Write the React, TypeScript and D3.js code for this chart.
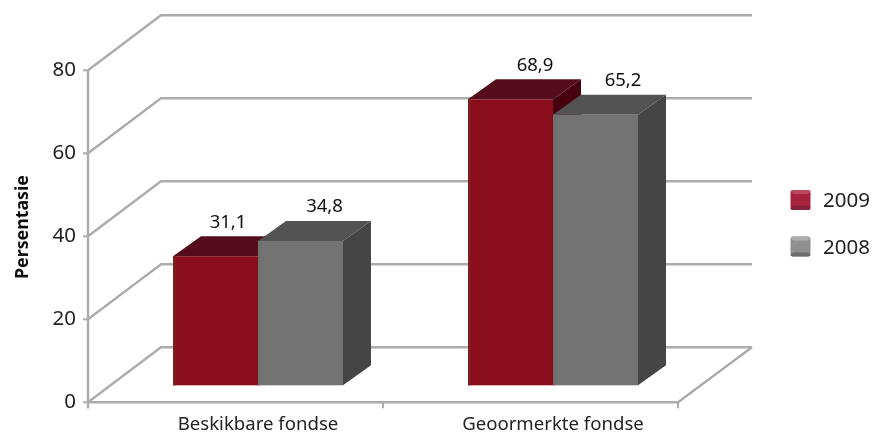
import React from "react";
import * as d3 from "d3";

const categories = ["Beskikbare fondse", "Geoormerkte fondse"];
const seriesNames = ["2009", "2008"];
const values2009 = [31.1, 68.9];
const values2008 = [34.8, 65.2];
const yTicks = [0, 20, 40, 60, 80];

const WIDTH = 880;
const HEIGHT = 434;
const FONT = "'Noto Sans', 'Open Sans', sans-serif";
const GRID = "#acacac";
const floorDx = 73;
const floorDy = -55;
const barDx = 28;
const barDy = -20;
const barLift = 17;
const groupShift = 22.5;
const labelNudgeX = [
  [12.5, 24],
  [24.5, 27.5],
];

const palettes = [
  { front: "#8a101c", frontEdge: "#7f1a1e", top: "#540a1c", side: "#47060f" },
  { front: "#737373", frontEdge: "#6f6f6f", top: "#525252", side: "#444444" },
];
const legendPalettes = [
  { face: "#a7203c", top: "#bb4a62", side: "#8a1a30", bottom: "#84203a" },
  { face: "#8f8f8f", top: "#adadad", side: "#747474", bottom: "#6c6c6c" },
];

const x = d3.scaleBand<string>().domain(categories).range([88, 678]);
const y = d3.scaleLinear().domain([0, 80]).range([402.3, 70.3]);
const pts = (p: number[][]) => p.map((q) => q.join(",")).join(" ");

export default function App() {
  const series = [values2009, values2008];
  const barW = 85;
  return (
    <svg
      width={WIDTH}
      height={HEIGHT}
      viewBox={`0 0 ${WIDTH} ${HEIGHT}`}
      style={{ position: "absolute", left: 0, top: 0, background: "#fff", fontFamily: FONT }}
    >
      <defs>
        <filter id="soft" x="0" y="0" width="100%" height="100%" filterUnits="userSpaceOnUse">
          <feGaussianBlur stdDeviation="0.45" />
        </filter>
      </defs>
      <g filter="url(#soft)">
        {/* gridlines on wall */}
        {yTicks.map((t) => (
          <polyline
            key={t}
            points={pts([
              [88, y(t)],
              [88 + floorDx, y(t) + floorDy],
              [752, y(t) + floorDy],
            ])}
            fill="none"
            stroke={GRID}
            strokeWidth={2.4}
          />
        ))}
        {/* floor */}
        <polyline
          points={pts([
            [88, y(0)],
            [678, y(0)],
            [678 + floorDx + 1, y(0) + floorDy],
          ])}
          fill="none"
          stroke={GRID}
          strokeWidth={2.4}
        />
        {/* y axis */}
        <line x1={88} x2={88} y1={y(80)} y2={y(0) + 6} stroke={GRID} strokeWidth={2.4} />
        {yTicks.map((t) => (
          <g key={t}>
            <line x1={83} x2={88} y1={y(t)} y2={y(t)} stroke={GRID} strokeWidth={2} />
            <text x={76} y={y(t) + 6} textAnchor="end" fontSize={20.5} fill="#222">
              {t}
            </text>
          </g>
        ))}
        {/* x ticks */}
        {[88, 383, 678].map((px) => (
          <line key={px} x1={px} x2={px} y1={y(0)} y2={y(0) + 6} stroke={GRID} strokeWidth={2} />
        ))}
        {categories.map((c) => (
          <text
            key={c}
            x={(x(c) as number) + x.bandwidth() / 2 + 22.5}
            y={430}
            textAnchor="middle"
            fontSize={18.6}
            fill="#222"
          >
            {c}
          </text>
        ))}
        {/* y axis title */}
        <text
          transform="translate(28,227) rotate(-90)"
          textAnchor="middle"
          fontSize={17.8}
          fontWeight={700}
          fill="#111"
        >
          Persentasie
        </text>
        {/* bars */}
        {categories.map((c, ci) => {
          const bx = (x(c) as number) + x.bandwidth() / 2 - barW + groupShift;
          const base = y(0) - barLift;
          return (
            <g key={c}>
              {series.map((vals, si) => {
                const p = palettes[si];
                const l = bx + si * barW;
                const r = l + barW;
                const t = y(vals[ci]) - barLift;
                return (
                  <g key={si}>
                    <polygon
                      points={pts([
                        [r, base],
                        [r + barDx, base + barDy],
                        [r + barDx, t + barDy],
                        [r, t],
                      ])}
                      fill={p.side}
                    />
                    <polygon
                      points={pts([
                        [l, t],
                        [l + barDx, t + barDy],
                        [r + barDx, t + barDy],
                        [r, t],
                      ])}
                      fill={p.top}
                    />
                    <rect x={l} y={t} width={barW} height={base - t} fill={p.front} />
                    <rect x={l} y={t} width={3} height={base - t} fill={p.frontEdge} />
                  </g>
                );
              })}
              {series.map((vals, si) => (
                <text
                  key={si}
                  x={bx + si * barW + barW / 2 + labelNudgeX[ci][si]}
                  y={y(vals[ci]) - barLift + barDy - 8.5}
                  textAnchor="middle"
                  fontSize={18.5}
                  fill="#111"
                >
                  {String(vals[ci]).replace(".", ",")}
                </text>
              ))}
            </g>
          );
        })}
        {/* legend */}
        {seriesNames.map((n, i) => {
          const ly = 200 + i * 46.5;
          const p = legendPalettes[i];
          return (
            <g key={n}>
              <rect x={790.5} y={ly - 10} width={20} height={20} rx={3} fill={p.face} />
              <path d={`M790.5 ${ly - 8} q0 -2 2 -2 h16 q2 0 2 2 l-3 2 h-14 z`} fill={p.top} />
              <path d={`M790.5 ${ly + 8} q0 2 2 2 h16 q2 0 2 -2 l-3 -2 h-14 z`} fill={p.bottom} />
              <text x={823} y={ly + 7} fontSize={20.5} fill="#222">
                {n}
              </text>
            </g>
          );
        })}
      </g>
    </svg>
  );
}
